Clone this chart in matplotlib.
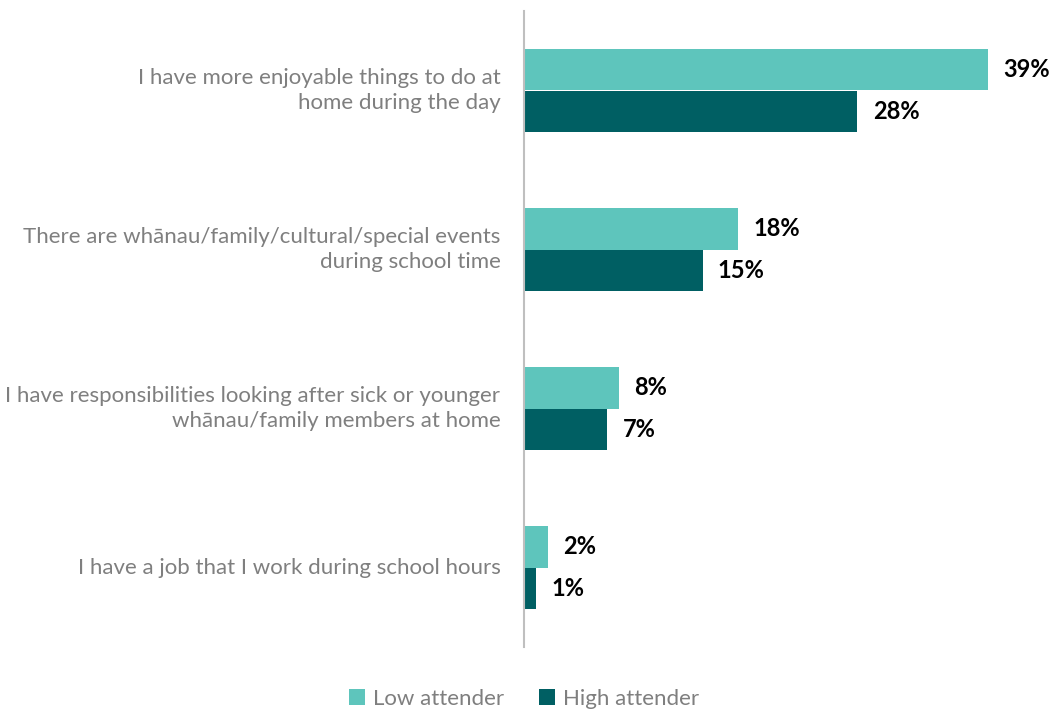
import matplotlib.pyplot as plt
import numpy as np

plt.rcParams['font.family'] = ['Lato', 'DejaVu Sans']

categories = [
    "I have more enjoyable things to do at\nhome during the day",
    "There are wh\u0101nau/family/cultural/special events\nduring school time",
    "I have responsibilities looking after sick or younger\nwh\u0101nau/family members at home",
    "I have a job that I work during school hours",
]
low_attender = [39, 18, 8, 2]
high_attender = [28, 15, 7, 1]
series_names = ["Low attender", "High attender"]

light = "#5EC5BC"
dark = "#005F63"
grey_text = "#7F7F7F"

fig = plt.figure(figsize=(10.55, 7.11), dpi=100)
ax = fig.add_axes([524 / 1055, 1 - 647 / 711, 531 / 1055, 636 / 711])

y = np.arange(len(categories))
h = 0.259
b1 = ax.barh(y - h / 2, low_attender, height=h, color=light, label=series_names[0])
b2 = ax.barh(y + h / 2, high_attender, height=h, color=dark, label=series_names[1])

for bars, vals in ((b1, low_attender), (b2, high_attender)):
    for bar, v in zip(bars, vals):
        ax.annotate(f"{v}%", (v, bar.get_y() + bar.get_height() / 2),
                    xytext=(11, 0), textcoords="offset points",
                    va="center", ha="left", fontsize=17, fontweight="bold",
                    color="black")

ax.set_xlim(0, 44.6)
ax.set_ylim(3.5, -0.5)
ax.set_xticks([])
ax.set_yticks([])
for s in ("top", "right", "bottom"):
    ax.spines[s].set_visible(False)
ax.spines["left"].set_color("#BFBFBF")
ax.spines["left"].set_linewidth(1.5)

for yi, cat in zip(y, categories):
    ax.annotate(cat, (0, yi), xytext=(-17, 0), textcoords="offset points",
                ha="right", va="center", fontsize=16, color=grey_text,
                linespacing=1.35, annotation_clip=False)

fig.legend(handles=[b1, b2], labels=series_names, loc="center",
           bbox_to_anchor=(524 / 1055, 1 - 699 / 711), ncol=2, frameon=False,
           fontsize=16, labelcolor=grey_text, handlelength=0.7,
           handleheight=0.7, handletextpad=0.35, columnspacing=1.6)

fig.savefig("out.png", dpi=100)
